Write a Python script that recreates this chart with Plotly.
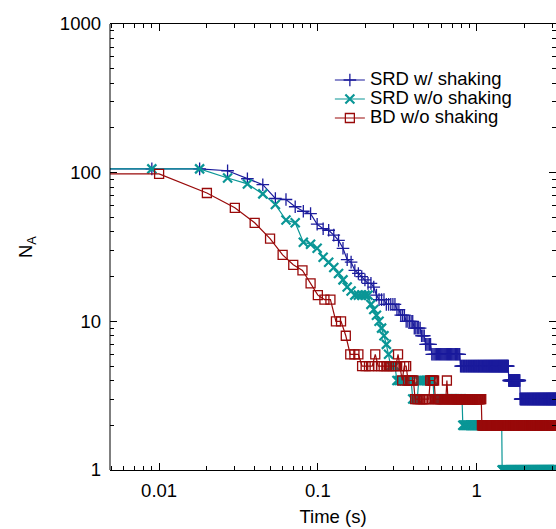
import numpy as np
import plotly.graph_objects as go

# ---------------- data ----------------
srd_dt = 0.009      # SRD output interval (s)
bd_dt = 0.01        # BD output interval (s)
t_initial = 0.001   # initial state (before the visible range)

# N_A values as runs: level, number of consecutive samples at that level
srd_shake_levels = [106, 103, 91, 83, 67, 66, 59, 55, 53, 45, 42, 41, 38, 35, 31, 26, 25,
                    22, 21, 20, 19, 18, 17, 15, 14, 13, 12, 11, 10, 9, 8, 7, 6, 5, 4, 3]
srd_shake_runs = [2, 1, 1, 1, 1, 1, 1, 1, 1, 1, 1, 1, 1, 1, 1, 1, 1,
                  1, 1, 1, 1, 2, 1, 1, 3, 5, 2, 3, 5, 5, 3, 5, 30, 89, 32, 152]

srd_noshake_levels = [106, 92, 84, 72, 61, 48, 46, 34, 33, 31, 27, 25, 23, 21, 19, 17, 16,
                      15, 13, 12, 11, 10, 9, 8, 7, 6, 5, 4, 3, 4, 3, 2, 1]
srd_noshake_runs = [2, 1, 1, 1, 1, 1, 1, 1, 1, 1, 1, 1, 1, 1, 1, 1, 1,
                    5, 1, 1, 1, 1, 1, 1, 1, 1, 3, 9, 4, 12, 31, 70, 200]

bd_noshake_levels = [98, 73, 58, 46, 36, 28, 24, 22, 18, 15, 14, 10, 8, 6, 5, 6, 5, 6, 5, 4,
                     5, 4, 3, 4, 3, 4, 3, 2]
bd_noshake_runs = [1, 1, 1, 1, 1, 1, 1, 1, 1, 1, 2, 2, 1, 3, 4, 1, 8, 1, 1, 1,
                   2, 4, 10, 4, 10, 1, 42, 223]

series_names = ["SRD w/ shaking", "SRD w/o shaking", "BD w/o shaking"]
x_tick_vals = [0.01, 0.1, 1]
x_tick_text = ["0.01", "0.1", "1"]
y_tick_vals = [1, 10, 100, 1000]
y_tick_text = ["1", "10", "100", "1000"]
x_minor_vals = [m * 10.0 ** e for e in (-3, -2, -1, 0) for m in range(2, 10)]
y_minor_vals = [m * 10.0 ** e for e in (0, 1, 2) for m in range(2, 10)]


def build(levels, runs, dt):
    vals = np.repeat(levels, runs)
    t = dt * np.arange(1, len(vals) + 1)
    return np.concatenate([[t_initial], t]), np.concatenate([[vals[0]], vals])


series = [
    build(srd_shake_levels, srd_shake_runs, srd_dt),
    build(srd_noshake_levels, srd_noshake_runs, srd_dt),
    build(bd_noshake_levels, bd_noshake_runs, bd_dt),
]

colors = ["#1b1b9c", "#0a9696", "#990a0a"]
symbols = ["cross-thin", "x-thin", "square-open"]
msizes = [9, 9, 9]
mlw = [1.3, 2.2, 1.3]

LEG_FONT = 18.5
fig = go.Figure()
for (t, v), name, c, s, ms, lw in zip(series, series_names, colors, symbols, msizes, mlw):
    fig.add_trace(go.Scatter(
        x=t, y=v, name=f'<span style="font-size:{LEG_FONT}px">{name}</span>',
        mode="lines+markers",
        line=dict(color=c, width=1.2),
        marker=dict(symbol=s, size=ms, color=c, line=dict(color=c, width=lw)),
    ))

axis_common = dict(
    type="log", linecolor="black", linewidth=1, automargin=False,
    ticks="inside", ticklen=7, tickwidth=1, tickcolor="black", mirror="allticks",
    showgrid=False, zeroline=False,
    tickfont=dict(size=18.5, color="black"),
)

fig.update_layout(
    width=556, height=529,
    margin=dict(l=110, r=0, t=24, b=59),
    paper_bgcolor="white", plot_bgcolor="white",
    font=dict(family="Liberation Sans, Arial, sans-serif", size=18.5, color="black"),
    xaxis=dict(axis_common, showline=True, range=[-2.3093, 0.5002],
               tickvals=x_tick_vals, ticktext=x_tick_text, ticklabelstandoff=4,
               minor=dict(tickvals=x_minor_vals, ticks="inside", ticklen=4, tickwidth=1,
                          tickcolor="black", showgrid=False),
               title=dict(text="Time (s)", standoff=9, font=dict(size=18.5))),
    yaxis=dict(axis_common, showline=False, range=[0, 3],
               tickvals=y_tick_vals, ticktext=y_tick_text, ticklabelstandoff=8,
               minor=dict(tickvals=y_minor_vals, ticks="inside", ticklen=4, tickwidth=1,
                          tickcolor="black", showgrid=False),
               title=dict(text="N<sub>A</sub>", standoff=22, font=dict(size=18.5))),
    legend=dict(x=0.493, y=0.907, xanchor="left", yanchor="top", bgcolor="rgba(0,0,0,0)",
                font=dict(size=11.9), borderwidth=0),
    showlegend=True,
    # left frame edge (the right edge of the original frame lies outside the crop)
    shapes=[dict(type="line", xref="paper", yref="paper", x0=0, x1=0, y0=0, y1=1,
                 line=dict(color="black", width=1), layer="above")],
)

fig.write_html("out.html", config={"displayModeBar": False},
               post_script="document.body.style.margin='0';")
